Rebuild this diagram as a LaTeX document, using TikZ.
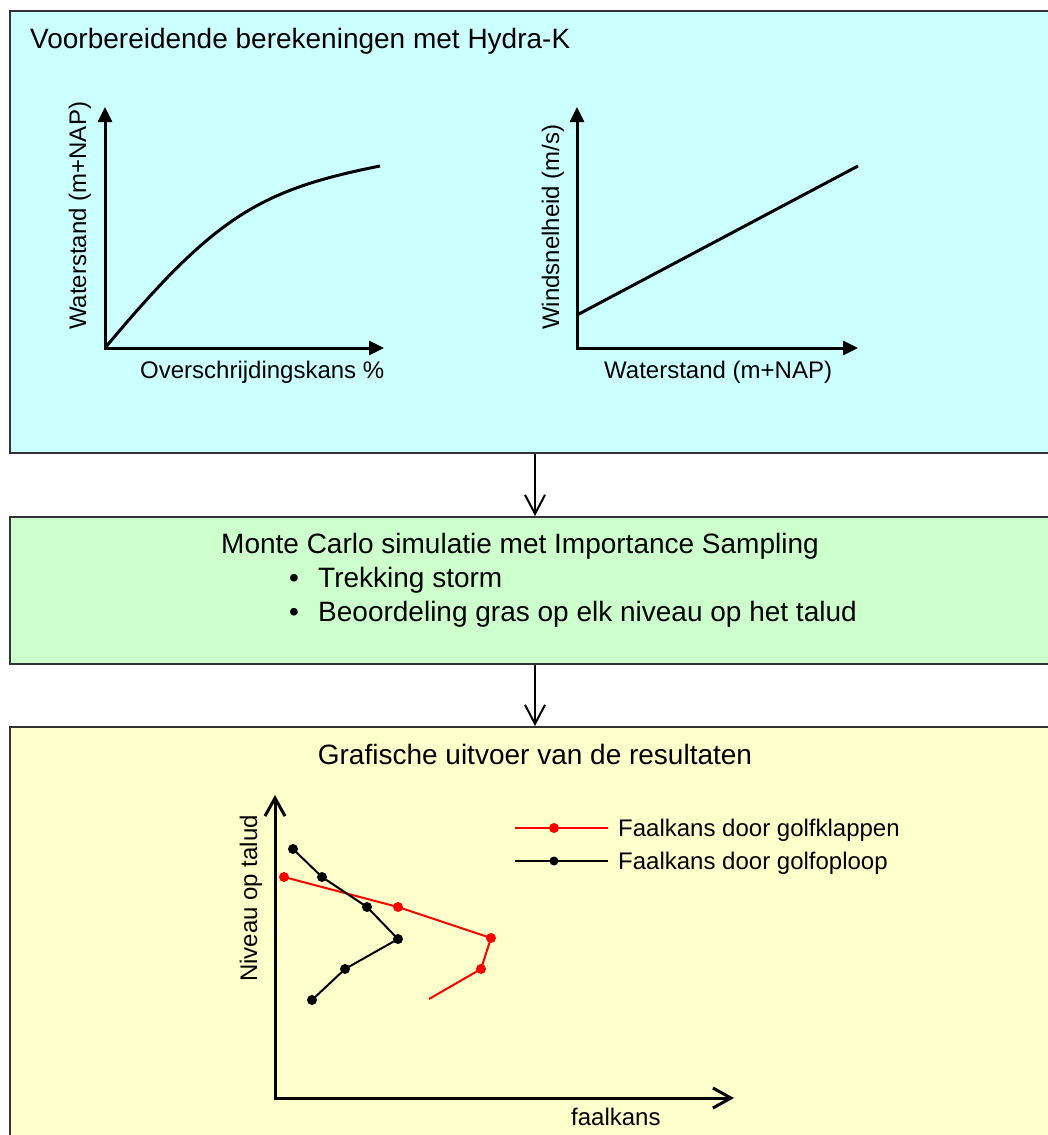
\documentclass[tikz,border=0pt]{standalone}
\usepackage{fontspec}
\setmainfont{Liberation Sans}
\usetikzlibrary{arrows.meta}
\definecolor{bgA}{HTML}{CCFFFF}
\definecolor{bgB}{HTML}{CCFFCC}
\definecolor{bgC}{HTML}{FFFFCC}
\definecolor{boxline}{HTML}{333333}
\begin{document}
\begin{tikzpicture}[x=1pt,y=-1pt,
  box/.style={draw=boxline, line width=2pt, anchor=north west, inner sep=0pt, minimum width=1100pt},
  conn/.style={line width=2pt, -{Straight Barb[length=19pt,width=20pt]}},
  axisA/.style={line width=3pt, {Triangle[length=15pt,width=14pt]}-{Triangle[length=15pt,width=14pt]}},
  axisB/.style={line width=3pt, {Straight Barb[length=18pt,width=20pt]}-{Straight Barb[length=18pt,width=20pt]}},
  big/.style={font=\fontsize{28}{34}\selectfont, inner sep=0pt},
  lab/.style={font=\fontsize{24}{29}\selectfont, inner sep=0pt},
  curve/.style={line width=3pt, line join=round},
  series/.style={line width=2pt, line join=round}]
\useasboundingbox (0,0) rectangle (1048,1135);
\fill[white] (0,0) rectangle (1048,1135);
\clip (0,0) rectangle (1048,1135);

% boxes
\node[box, fill=bgA, minimum height=442pt] (b1) at (9,10) {};
\node[box, fill=bgB, minimum height=147pt] (b2) at (9,516) {};
\node[box, fill=bgC, minimum height=440pt] (b3) at (9,726) {};

% connectors
\coordinate (ax) at (535,0);
\draw[conn] (b1.south -| ax) -- (b2.north -| ax);
\draw[conn] (b2.south -| ax) -- (b3.north -| ax);

% box 1
\node[big, anchor=base west] (t1) at (30,48) {Voorbereidende berekeningen met Hydra-K};

% left graph
\coordinate (o1) at (105,348);
\coordinate (y1) at (105,107);
\coordinate (x1) at (384,348);
\draw[axisA] (y1) -- (o1) -- (x1);
\coordinate (c1e) at (380,166);
\draw[curve] (o1) .. controls (215,216) and (260,190) .. (c1e);
\node[lab, rotate=90, anchor=base west] (yl1) at (86,330) {Waterstand (m+NAP)};
\node[lab, anchor=base west] (xl1) at (140,378) {Overschrijdingskans \%};

% right graph
\coordinate (o2) at (577,348);
\coordinate (y2) at (577,107);
\coordinate (x2) at (858,348);
\draw[axisA] (y2) -- (o2) -- (x2);
\coordinate (l2a) at (577,315);
\coordinate (l2b) at (858,166);
\draw[curve] (l2a) -- (l2b);
\node[lab, rotate=90, anchor=base west] (yl2) at (559,330) {Windsnelheid (m/s)};
\node[lab, anchor=base west] (xl2) at (604,378) {Waterstand (m+NAP)};

% box 2
\node[big, anchor=base west] (t2) at (221,553) {Monte Carlo simulatie met Importance Sampling};
\node[big, anchor=base] (bu1) at (294,587) {\textbullet};
\node[big, anchor=base west] (i1) at (318,587) {Trekking storm};
\node[big, anchor=base] (bu2) at (294,621) {\textbullet};
\node[big, anchor=base west] (i2) at (318,621) {Beoordeling gras op elk niveau op het talud};

% box 3
\node[big, anchor=base] (t3) at (535,764) {Grafische uitvoer van de resultaten};
\coordinate (o3) at (275,1098);
\coordinate (y3) at (275,795);
\coordinate (x3) at (734,1098);
\draw[axisB] (y3) -- (o3) -- (x3);
\node[lab, rotate=90, anchor=base west] (yl3) at (257,982) {Niveau op talud};
\node[lab, anchor=base west] (xl3) at (571,1125) {faalkans};

% series
\draw[series, red] plot coordinates {(284,877) (398,907) (491,938) (481,969) (429,999)};
\foreach \p in {(284,877),(398,907),(491,938),(481,969)} \fill[red] \p circle (5pt);
\draw[series, black] plot coordinates {(293,849) (322,877) (367,907) (398,939) (345,969) (312,1000)};
\foreach \p in {(293,849),(322,877),(367,907),(398,939),(345,969),(312,1000)} \fill[black] \p circle (5pt);

% legend
\coordinate (la1) at (515,828);
\coordinate (lb1) at (608,828);
\draw[series, red] (la1) -- (lb1);
\fill[red] (554,828) circle (5pt);
\node[lab, anchor=base west] (lg1) at (618,836.5) {Faalkans door golfklappen};
\coordinate (la2) at (515,861);
\coordinate (lb2) at (608,861);
\draw[series, black] (la2) -- (lb2);
\fill[black] (554,861) circle (4.5pt);
\node[lab, anchor=base west] (lg2) at (618,869.5) {Faalkans door golfoploop};
\end{tikzpicture}
\end{document}
